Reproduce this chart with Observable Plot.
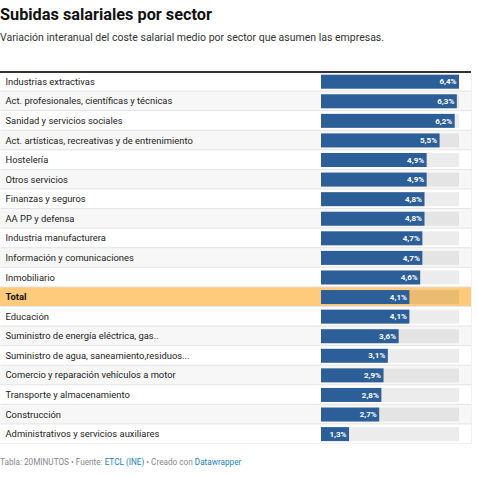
<!DOCTYPE html>
<html>
<head>
<meta charset="utf-8">
<script src="https://cdn.jsdelivr.net/npm/d3@7"></script>
<script src="https://cdn.jsdelivr.net/npm/@observablehq/plot@0.6"></script>
<style>
  body { margin: 0; background: #fff; font-family: Roboto, "Noto Sans", sans-serif; }
  #wrap { position: relative; width: 478px; height: 478px; overflow: hidden; }
  #title { position: absolute; left: 0; top: 5px; font-size: 16.3px; font-weight: 700; color: #111; }
  #subtitle { position: absolute; left: 0; top: 31px; font-size: 10.5px; color: #333; }
  #chart { position: absolute; left: 0; top: 72px; line-height: 0; }
  #topline { position: absolute; left: 0; top: 71px; width: 471px; height: 1.5px; background: #333; }
  #footer { position: absolute; left: 0; top: 457px; font-size: 8.2px; color: #888; }
  #footer span { color: #1d81b8; }
</style>
</head>
<body>
<div id="wrap">
  <div id="title">Subidas salariales por sector</div>
  <div id="subtitle">Variación interanual del coste salarial medio por sector que asumen las empresas.</div>
  <div id="chart"></div>
  <div id="topline"></div>
  <div id="footer">Tabla: 20MINUTOS • Fuente: <span>ETCL (INE)</span> • Creado con <span>Datawrapper</span></div>
</div>
<script>
const sectors = [
  "Industrias extractivas",
  "Act. profesionales, científicas y técnicas",
  "Sanidad y servicios sociales",
  "Act. artísticas, recreativas y de entrenimiento",
  "Hostelería",
  "Otros servicios",
  "Finanzas y seguros",
  "AA PP y defensa",
  "Industria manufacturera",
  "Información y comunicaciones",
  "Inmobiliario",
  "Total",
  "Educación",
  "Suministro de energía eléctrica, gas..",
  "Suministro de agua, saneamiento,residuos...",
  "Comercio y reparación vehículos a motor",
  "Transporte y almacenamiento",
  "Construcción",
  "Administrativos y servicios auxiliares"
];
const values = [6.4, 6.3, 6.2, 5.5, 4.9, 4.9, 4.8, 4.8, 4.7, 4.7, 4.6, 4.1, 4.1, 3.6, 3.1, 2.9, 2.8, 2.7, 1.3];
const highlight = "Total";

const data = sectors.map((s, i) => ({sector: s, value: values[i], index: i}));
const maxV = d3.max(values);
const fmt = v => d3.format(".1f")(v).replace(".", ",") + "%";
const rowFill = d => d.sector === highlight ? "#fecb7c" : (d.index % 2 === 1 ? "#f7f7f7" : "#ffffff");

const chart = Plot.plot({
  width: 478,
  height: 372,
  marginTop: 0, marginBottom: 0, marginLeft: 321, marginRight: 19,
  x: {domain: [0, maxV], axis: null},
  y: {domain: sectors, padding: 0, round: false, axis: null},
  style: {fontFamily: "Roboto, 'Noto Sans', sans-serif"},
  marks: [
    Plot.frame({fill: "#e4e4e4", stroke: null, insetLeft: -321, insetRight: -12, insetBottom: 1}),
    Plot.cell(data, {y: "sector", fill: rowFill, insetLeft: -321, insetRight: -12, insetBottom: 1}),
    Plot.barX(data, {y: "sector", x1: 0, x2: maxV, fill: "#000", fillOpacity: 0.075, insetTop: 2.7, insetBottom: 2.9}),
    Plot.barX(data, {y: "sector", x: "value", fill: "#2c5f97", insetTop: 2.7, insetBottom: 2.9}),
    Plot.text(data, {y: "sector", x: "value", text: d => fmt(d.value), textAnchor: "end", dx: -3, dy: -0.5, fill: "#fff", fontWeight: 700, fontSize: 8}),
    Plot.text(data.filter(d => d.sector !== highlight), {y: "sector", text: "sector", frameAnchor: "left", textAnchor: "start", dx: -316, dy: -0.5, fill: "#222", fontSize: 9.4}),
    Plot.text(data.filter(d => d.sector === highlight), {y: "sector", text: "sector", frameAnchor: "left", textAnchor: "start", dx: -316, dy: -0.5, fill: "#111", fontSize: 9.4, fontWeight: 700})
  ]
});
document.getElementById("chart").appendChild(chart);
</script>
</body>
</html>
